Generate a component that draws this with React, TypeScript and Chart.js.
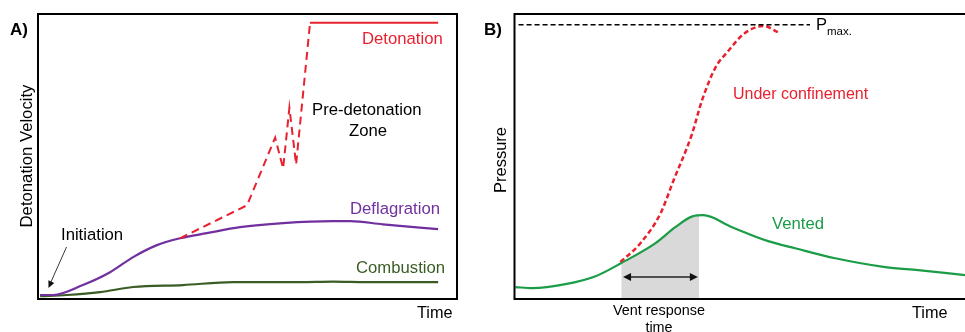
import React, { useEffect, useRef } from "react";
import { Chart, registerables } from "chart.js";
Chart.register(...registerables);

// ---------- Panel A data (time 0..100, velocity 0..100) ----------
const deflagrationX = [0.5, 3.6, 10.7, 17.2, 22.7, 28.4, 33.9, 40.3, 48.2, 58.5, 70.4, 74.5, 82.3, 95.5];
const deflagrationY = [1.4, 1.4, 4.9, 9.4, 14.7, 18.9, 21.3, 23.1, 25.2, 26.6, 27.3, 27.3, 26.2, 24.5];
const combustionX = [0.5, 6.9, 14.8, 22.7, 34.6, 46.5, 62.5, 70.4, 78.5, 95.5];
const combustionY = [1.0, 1.4, 2.4, 4.2, 4.9, 5.9, 5.9, 6.1, 5.9, 5.9];
const preDetonationX = [33.9, 49.9, 56.6, 58.5, 60.0, 61.6, 64.9];
const preDetonationY = [21.3, 32.9, 56.6, 45.8, 67.1, 47.2, 96.5];
const detonationX = [64.9, 95.5];
const detonationY = [96.9, 96.9];

// ---------- Panel B data (time 0..100, pressure 0..100) ----------
const ventedX = [0.2, 4.0, 11.3, 18.0, 23.7, 31.3, 35.7, 39.5, 41.9, 48.3, 56.3, 62.3, 71.2, 82.3, 89.6, 100];
const ventedY = [4.2, 3.8, 5.2, 8.0, 12.6, 19.6, 25.2, 29.0, 29.4, 25.2, 20.3, 17.8, 14.3, 11.2, 10.1, 8.4];
const confinedX = [23.5, 27.9, 32.4, 35.3, 39.4, 41.6, 44.6, 47.5, 50.8, 55.3, 58.6];
const confinedY = [13.0, 19.5, 30.0, 41.6, 57.9, 69.6, 81.2, 87.1, 92.9, 95.8, 93.5];
const pmaxX = [0.9, 65.6];
const pmaxY = [96.2, 96.2];
const ventWindowX = [23.7, 31.3, 35.7, 39.5, 41.0];
const ventWindowY = [12.6, 19.6, 25.2, 29.0, 29.25];
const ventArrowX = [24.1, 40.7];
const ventArrowY = 7.7;

const FONT = "'Liberation Sans', Arial, sans-serif";
const RED = "#e8212f";
const PURPLE = "#7030a0";
const DKGREEN = "#3a5c25";
const GREEN = "#1b9c47";

const pts = (xs: number[], ys: number[]) => xs.map((x, i) => ({ x, y: ys[i] }));

type Txt = { t: string; x: number; y: number; c: string; f: string; align?: CanvasTextAlign; rot?: boolean };

function arrowHead(ctx: CanvasRenderingContext2D, x0: number, y0: number, x1: number, y1: number, len: number, half: number) {
  const ang = Math.atan2(y1 - y0, x1 - x0);
  ctx.beginPath();
  ctx.moveTo(x1, y1);
  ctx.lineTo(x1 - len * Math.cos(ang) + half * Math.sin(ang), y1 - len * Math.sin(ang) - half * Math.cos(ang));
  ctx.lineTo(x1 - len * Math.cos(ang) - half * Math.sin(ang), y1 - len * Math.sin(ang) + half * Math.cos(ang));
  ctx.closePath();
  ctx.fill();
}

function makeDecor(texts: Txt[], extra: (chart: any) => void, openRight: boolean) {
  return {
    id: "decor",
    afterDatasetsDraw(chart: any) {
      const ctx: CanvasRenderingContext2D = chart.ctx;
      const a = chart.chartArea;
      ctx.save();
      extra(chart);
      ctx.setLineDash([]);
      ctx.strokeStyle = "#000";
      ctx.lineWidth = 2;
      ctx.beginPath();
      if (openRight) {
        ctx.moveTo(a.right + 2, a.top);
        ctx.lineTo(a.left, a.top);
        ctx.lineTo(a.left, a.bottom);
        ctx.lineTo(a.right + 2, a.bottom);
      } else {
        ctx.rect(a.left, a.top, a.right - a.left, a.bottom - a.top);
      }
      ctx.stroke();
      ctx.textBaseline = "alphabetic";
      texts.forEach((t) => {
        ctx.fillStyle = t.c;
        ctx.font = t.f;
        ctx.textAlign = t.align || "left";
        if (t.rot) {
          ctx.save();
          ctx.translate(t.x, t.y);
          ctx.rotate(-Math.PI / 2);
          ctx.textAlign = "center";
          ctx.fillText(t.t, 0, 0);
          ctx.restore();
        } else {
          ctx.fillText(t.t, t.x, t.y);
        }
      });
      ctx.restore();
    },
  };
}

const baseOpts = (pad: any) => ({
  responsive: false,
  animation: false as const,
  devicePixelRatio: 1,
  events: [],
  layout: { padding: pad },
  plugins: { legend: { display: false }, tooltip: { enabled: false } },
  scales: {
    x: { type: "linear" as const, min: 0, max: 100, display: false },
    y: { type: "linear" as const, min: 0, max: 100, display: false },
  },
  elements: { point: { radius: 0 } },
});

export default function App() {
  const refA = useRef<HTMLCanvasElement>(null);
  const refB = useRef<HTMLCanvasElement>(null);

  useEffect(() => {
    const f17 = `16.7px ${FONT}`;
    const textsA: Txt[] = [
      { t: "A)", x: 10, y: 35, c: "#000", f: `bold 17px ${FONT}` },
      { t: "Detonation", x: 362, y: 44, c: RED, f: f17 },
      { t: "Pre-detonation", x: 312, y: 114.5, c: "#000", f: f17 },
      { t: "Zone", x: 368, y: 135.5, c: "#000", f: f17, align: "center" },
      { t: "Deflagration", x: 350, y: 214, c: PURPLE, f: f17 },
      { t: "Initiation", x: 61, y: 240, c: "#000", f: f17 },
      { t: "Combustion", x: 356, y: 273, c: DKGREEN, f: f17 },
      { t: "Time", x: 417, y: 318, c: "#000", f: `16.3px ${FONT}` },
      { t: "Detonation Velocity", x: 31.5, y: 156, c: "#000", f: f17, rot: true },
    ];
    const ox = 482;
    const textsB: Txt[] = [
      { t: "B)", x: 484 - ox, y: 35, c: "#000", f: `bold 17px ${FONT}` },
      { t: "P", x: 816 - ox, y: 30, c: "#000", f: `16.5px ${FONT}` },
      { t: "max.", x: 827 - ox, y: 34.5, c: "#000", f: `11.5px ${FONT}` },
      { t: "Under confinement", x: 733 - ox, y: 99, c: RED, f: `16px ${FONT}` },
      { t: "Vented", x: 772 - ox, y: 229, c: GREEN, f: f17 },
      { t: "Pressure", x: 505.5 - ox, y: 160, c: "#000", f: `16.5px ${FONT}`, rot: true },
      { t: "Vent response", x: 659 - ox, y: 314.5, c: "#000", f: `14.4px ${FONT}`, align: "center" },
      { t: "time", x: 659 - ox, y: 331.5, c: "#000", f: `14.4px ${FONT}`, align: "center" },
      { t: "Time", x: 912 - ox, y: 318, c: "#000", f: `16.3px ${FONT}` },
    ];

    const decorA = makeDecor(
      textsA,
      (chart) => {
        const ctx: CanvasRenderingContext2D = chart.ctx;
        ctx.strokeStyle = "#222";
        ctx.fillStyle = "#111";
        ctx.lineWidth = 0.9;
        ctx.beginPath();
        ctx.moveTo(66.5, 247);
        ctx.lineTo(50.5, 283);
        ctx.stroke();
        arrowHead(ctx, 66.5, 247, 48.5, 288, 7, 3.2);
      },
      false
    );

    const decorB = makeDecor(
      textsB,
      (chart) => {
        const ctx: CanvasRenderingContext2D = chart.ctx;
        const xs = chart.scales.x;
        const ys = chart.scales.y;
        const x0 = xs.getPixelForValue(ventArrowX[0]);
        const x1 = xs.getPixelForValue(ventArrowX[1]);
        const y = ys.getPixelForValue(ventArrowY);
        ctx.strokeStyle = "#222";
        ctx.fillStyle = "#111";
        ctx.lineWidth = 1.5;
        ctx.beginPath();
        ctx.moveTo(x0 + 5, y);
        ctx.lineTo(x1 - 5, y);
        ctx.stroke();
        arrowHead(ctx, x1, y, x0, y, 8, 4);
        arrowHead(ctx, x0, y, x1, y, 8, 4);
      },
      true
    );

    const cA = new Chart(refA.current!, {
      type: "line",
      data: {
        datasets: [
          {
            data: pts(detonationX, detonationY),
            borderColor: RED,
            borderWidth: 2,
          },
          {
            data: pts(preDetonationX, preDetonationY),
            borderColor: RED,
            borderWidth: 2,
            borderDash: [8, 5],
          },
          {
            data: pts(deflagrationX, deflagrationY),
            borderColor: PURPLE,
            borderWidth: 2.2,
            cubicInterpolationMode: "monotone",
          },
          {
            data: pts(combustionX, combustionY),
            borderColor: DKGREEN,
            borderWidth: 2.2,
            cubicInterpolationMode: "monotone",
          },
        ],
      },
      options: baseOpts({ left: 38, top: 14, right: 25, bottom: 33 }) as any,
      plugins: [decorA],
    });

    const cB = new Chart(refB.current!, {
      type: "line",
      data: {
        datasets: [
          {
            data: pts(pmaxX, pmaxY),
            borderColor: "#000",
            borderWidth: 1.5,
            borderDash: [5, 3],
          },
          {
            data: pts(confinedX, confinedY),
            borderColor: RED,
            borderWidth: 2.5,
            borderDash: [5, 3],
            cubicInterpolationMode: "monotone",
          },
          {
            data: pts(ventedX, ventedY),
            borderColor: GREEN,
            borderWidth: 2.2,
            cubicInterpolationMode: "monotone",
          },
          {
            data: pts(ventWindowX, ventWindowY),
            borderWidth: 0,
            borderColor: "rgba(0,0,0,0)",
            backgroundColor: "#d9d9d9",
            fill: "origin",
            cubicInterpolationMode: "monotone",
          },
        ],
      },
      options: baseOpts({ left: 32.5, top: 14, right: 0, bottom: 33 }) as any,
      plugins: [decorB],
    });

    return () => {
      cA.destroy();
      cB.destroy();
    };
  }, []);

  return (
    <div style={{ position: "fixed", left: 0, top: 0, width: 965, height: 332, background: "#fff" }}>
      <canvas ref={refA} width={482} height={332} style={{ position: "absolute", left: 0, top: 0, width: 482, height: 332 }} />
      <canvas ref={refB} width={483} height={332} style={{ position: "absolute", left: 482, top: 0, width: 483, height: 332 }} />
    </div>
  );
}
